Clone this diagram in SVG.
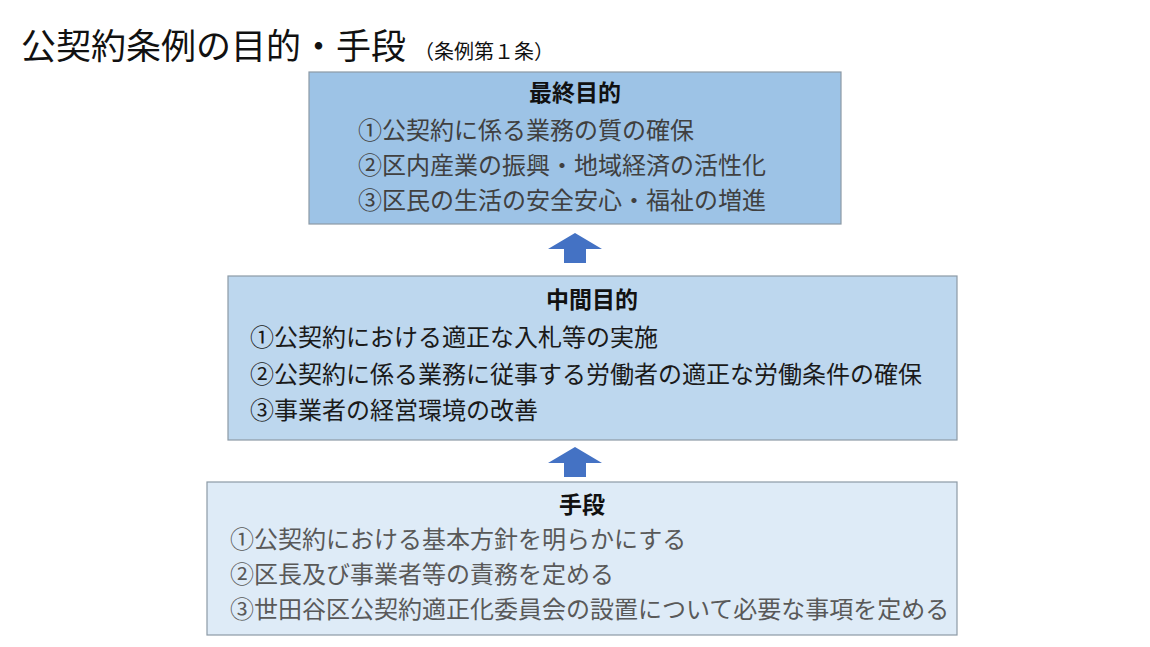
<svg xmlns="http://www.w3.org/2000/svg" width="1150" height="647" viewBox="0 0 1150 647">
<style>
text{font-family:"Noto Sans CJK JP","Noto Sans",sans-serif}
.box{stroke:#8c9aa6;stroke-width:1.2}
.hd{font-size:23px;font-weight:bold;fill:#111;text-anchor:middle}
.it{font-size:24px}
.arrow{fill:#4472c4}
</style>
<rect width="1150" height="647" fill="#ffffff"/>
<g id="title">
<text x="21" y="59" font-size="35" fill="#111">公契約条例の目的・手段<tspan font-size="20" dx="8">（条例第１条）</tspan></text>
</g>
<g id="node-final">
<rect class="box" x="309" y="72" width="532" height="152" fill="#9dc3e6"/>
<text class="hd" x="575" y="101">最終目的</text>
<text class="it" x="358" y="139" fill="#404040">①公契約に係る業務の質の確保</text>
<text class="it" x="358" y="174" fill="#404040">②区内産業の振興・地域経済の活性化</text>
<text class="it" x="358" y="209" fill="#404040">③区民の生活の安全安心・福祉の増進</text>
</g>
<g id="node-middle">
<rect class="box" x="228" y="276" width="729" height="164" fill="#bdd7ee"/>
<text class="hd" x="592" y="308">中間目的</text>
<text class="it" x="250" y="346" fill="#1a1a1a">①公契約における適正な入札等の実施</text>
<text class="it" x="250" y="383" fill="#1a1a1a">②公契約に係る業務に従事する労働者の適正な労働条件の確保</text>
<text class="it" x="250" y="419" fill="#1a1a1a">③事業者の経営環境の改善</text>
</g>
<g id="node-means">
<rect class="box" x="207" y="482" width="750" height="153" fill="#deebf7"/>
<text class="hd" x="582" y="513">手段</text>
<text class="it" x="230" y="548" fill="#595959">①公契約における基本方針を明らかにする</text>
<text class="it" x="230" y="583" fill="#595959">②区長及び事業者等の責務を定める</text>
<text class="it" x="230" y="618" fill="#595959">③世田谷区公契約適正化委員会の設置について必要な事項を定める</text>
</g>
<g id="connectors">
<polygon class="arrow" points="575,233 602,249 586,249 586,263 564,263 564,249 548,249"/>
<polygon class="arrow" points="575,447 602,463 586,463 586,477 564,477 564,463 548,463"/>
</g>
</svg>
